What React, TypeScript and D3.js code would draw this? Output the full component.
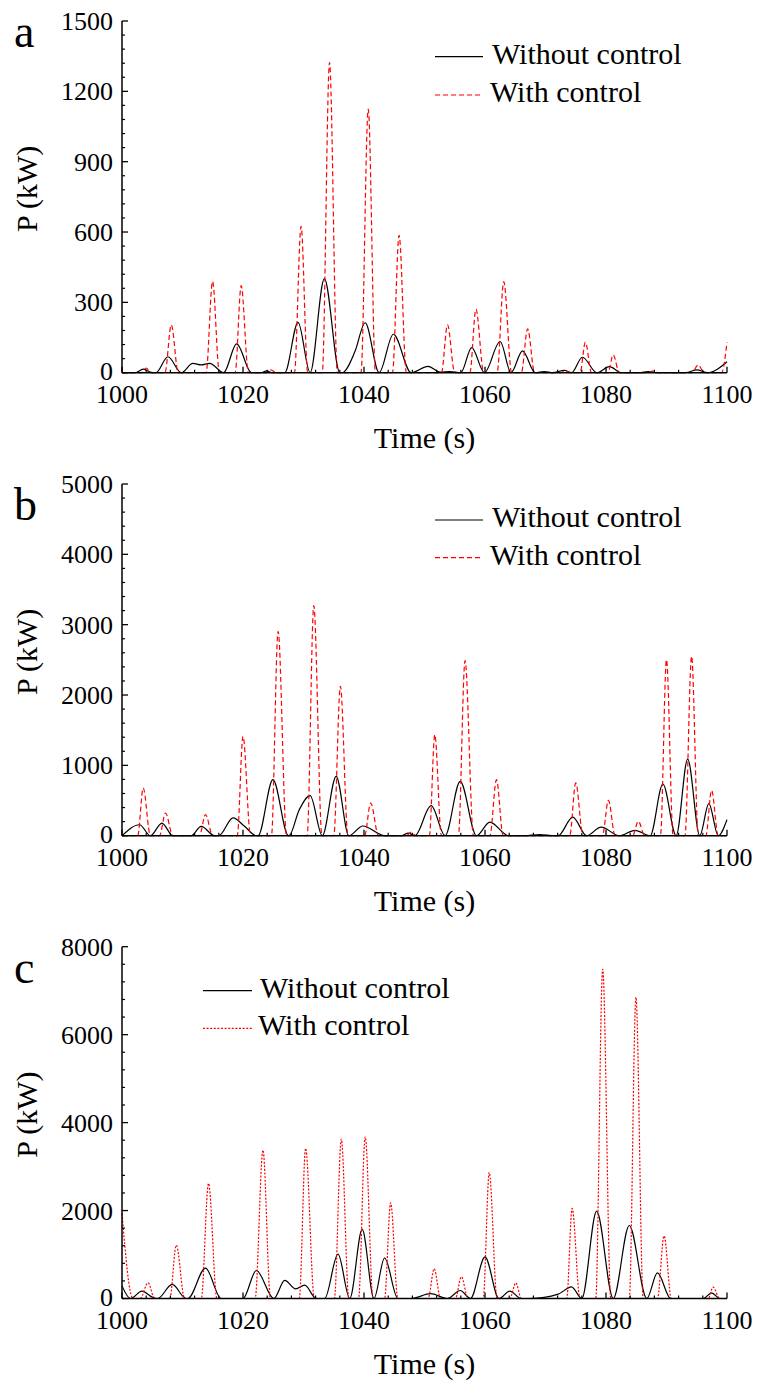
import React from 'react';
import * as d3 from 'd3';

type Pt = [number, number];

const timeDomain: [number, number] = [1000, 1100];
const xMajorTicks = [1000, 1020, 1040, 1060, 1080, 1100];
const xMinorStep = 4;

const seriesNames = ['Without control', 'With control'];
const panelLabels = ['a', 'b', 'c'];
const yMaxes = [1500, 5000, 8000];
const yMajorSteps = [300, 1000, 2000];
const yMinorSteps = [60, 200, 400];

const aWithout: Pt[] = [
  [1000, 0], [1002.2, 0], [1003.5, 15], [1005.1, 0], [1005.6, 0], [1007.6, 68], [1009.8, 0],
  [1011.7, 40], [1013.1, 33], [1014.5, 40], [1016.8, 0], [1018.95, 123], [1021.4, 0], [1023.0, 0],
  [1023.9, 8], [1024.8, 0], [1026.9, 0], [1029.1, 215], [1031.1, 0], [1033.45, 401], [1036.0, 0],
  [1036.4, 0], [1038.5, 90], [1040.2, 213], [1042.5, 0], [1044.85, 164], [1047.8, 0], [1050.6, 27],
  [1052.6, 3], [1054.2, 5], [1056.0, 0], [1057.8, 107], [1059.9, 0], [1062.5, 133], [1064.3, 0],
  [1066.2, 93], [1068.3, 0], [1069.8, 5], [1071.2, 0], [1073.1, 10], [1074.3, 0], [1076.1, 66],
  [1078.5, 0], [1080.55, 26], [1082.6, 0], [1085.5, 0], [1087, 5], [1088.5, 0], [1093.2, 0],
  [1095.0, 12], [1096.8, 0], [1100, 47],
];

const aWith: Pt[] = [
  [1000, 0], [1003.2, 0], [1004.0, 20], [1004.8, 0], [1007.1, 0], [1008.15, 204], [1009.3, 0],
  [1013.9, 0], [1014.97, 389], [1016.1, 0], [1018.7, 0], [1019.7, 371], [1020.9, 0], [1023.8, 0],
  [1024.6, 12], [1025.5, 0], [1028.5, 0], [1029.6, 624], [1030.7, 0], [1033.1, 0], [1034.3, 1323],
  [1035.6, 0], [1039.5, 0], [1040.7, 1124], [1041.9, 0], [1044.7, 0], [1045.8, 586], [1047.0, 0],
  [1052.8, 0], [1053.8, 204], [1055.0, 0], [1057.5, 0], [1058.5, 271], [1059.8, 0], [1062.0, 0],
  [1063.1, 389], [1064.4, 0], [1066.0, 0], [1067.05, 187], [1068.2, 0], [1072.5, 0], [1073.3, 8],
  [1074.1, 0], [1075.7, 0], [1076.6, 130], [1077.6, 0], [1080.3, 0], [1081.2, 76], [1082.2, 0],
  [1087.0, 0], [1087.8, 8], [1088.6, 0], [1094.2, 0], [1095.25, 33], [1096.2, 0], [1099.1, 0],
  [1100, 130],
];

const bWithout: Pt[] = [
  [1000, 0], [1002.9, 156], [1004.7, 0], [1006.6, 180], [1008.4, 0], [1011.4, 0], [1013.1, 133],
  [1015.3, 0], [1016.0, 0], [1018.35, 252], [1020.25, 133], [1022.2, 0], [1022.5, 0], [1024.95, 796],
  [1027.5, 0], [1027.6, 0], [1029.3, 370], [1031.1, 569], [1033.1, 0], [1035.4, 844], [1037.5, 0],
  [1039.8, 138], [1043.4, 0], [1046.2, 0], [1047.3, 38], [1048.4, 0], [1051.1, 427], [1053.4, 0],
  [1055.9, 773], [1058.6, 0], [1060.8, 194], [1063.9, 0], [1066.5, 0], [1069, 15], [1071.5, 0],
  [1072.1, 0], [1074.5, 265], [1076.8, 0], [1079.2, 123], [1082.2, 0], [1084.8, 76], [1087.3, 0],
  [1089.4, 735], [1091.6, 0], [1093.5, 1090], [1095.5, 0], [1097.0, 455], [1098.55, 0], [1100, 228],
];

const bWith: Pt[] = [
  [1000, 0], [1002.6, 0], [1003.5, 678], [1004.7, 0], [1006.2, 0], [1007.2, 323], [1008.4, 0],
  [1012.8, 0], [1013.8, 299], [1015.0, 0], [1019.05, 0], [1020.0, 1413], [1021.25, 0], [1024.7, 0],
  [1025.8, 2906], [1027.2, 0], [1030.6, 0], [1031.7, 3270], [1033.05, 0], [1035.0, 0], [1036.1, 2124],
  [1037.35, 0], [1040.1, 0], [1041.1, 465], [1042.4, 0], [1047.0, 0], [1047.8, 50], [1048.6, 0],
  [1050.8, 0], [1051.7, 1436], [1052.8, 0], [1055.6, 0], [1056.7, 2488], [1058.1, 0], [1060.8, 0],
  [1061.9, 796], [1063.0, 0], [1074.0, 0], [1075.0, 750], [1076.2, 0], [1079.4, 0], [1080.4, 503],
  [1081.5, 0], [1084.4, 0], [1085.35, 204], [1086.4, 0], [1089.0, 0], [1090.0, 2503], [1091.1, 0],
  [1093.05, 0], [1094.15, 2550], [1095.25, 0], [1096.5, 0], [1097.45, 645], [1098.55, 0], [1100, 0],
];

const cWithout: Pt[] = [
  [1000, 287], [1001.4, 0], [1003.3, 166], [1005.0, 30], [1005.9, 0], [1008.3, 319], [1010.6, 0],
  [1010.9, 0], [1013.8, 690], [1016.4, 0], [1020.0, 0], [1022.2, 637], [1025.1, 0], [1026.9, 410],
  [1028.7, 218], [1030.2, 303], [1032.1, 0], [1033.5, 0], [1035.7, 1008], [1037.65, 0], [1039.7, 1570],
  [1041.65, 0], [1043.4, 924], [1045.6, 0], [1047.8, 0], [1051.0, 110], [1053.8, 0], [1055.9, 182],
  [1057.6, 0], [1060.0, 947], [1062.3, 0], [1064.1, 167], [1066.0, 0], [1067.5, 0], [1072.1, 100],
  [1074.3, 265], [1076.0, 0], [1078.45, 1987], [1081.2, 0], [1083.85, 1660], [1086.75, 0],
  [1088.5, 583], [1090.7, 0], [1096.1, 0], [1097.45, 130], [1098.8, 0], [1100, 0],
];

const cWith: Pt[] = [
  [1000, 1934], [1001.8, 0], [1003.0, 0], [1004.3, 357], [1005.4, 0], [1007.9, 0], [1008.97, 1213],
  [1010.35, 0], [1013.1, 0], [1014.3, 2616], [1015.7, 0], [1022.0, 0], [1023.3, 3374], [1024.55, 0],
  [1029.3, 0], [1030.35, 3413], [1031.8, 0], [1035.1, 0], [1036.25, 3625], [1037.5, 0], [1039.1, 0],
  [1040.2, 3677], [1041.5, 0], [1043.4, 0], [1044.4, 2175], [1045.6, 0], [1050.6, 0], [1051.6, 675],
  [1052.65, 0], [1055.1, 0], [1056.1, 493], [1057.2, 0], [1059.7, 0], [1060.7, 2866], [1062.0, 0],
  [1064.1, 0], [1065.1, 357], [1066.0, 0], [1073.5, 0], [1074.4, 2048], [1075.7, 0], [1078.3, 0],
  [1079.45, 7486], [1080.8, 0], [1083.85, 0], [1084.95, 6849], [1086.15, 0], [1088.5, 0],
  [1089.6, 1425], [1090.8, 0], [1096.9, 0], [1097.7, 258], [1098.8, 0], [1100, 0],
];

const withoutData = [aWithout, bWithout, cWithout];
const withData = [aWith, bWith, cWith];

// layout (not data)
const X0 = 122;
const X1 = 727;
const layouts = [
  { top: 21, bottom: 372.7, lx1: 435, lx2: 483, tx: 492, ly1: 56.7, ly2: 95, dash: '5,3', labelY: 47 },
  { top: 484, bottom: 835.7, lx1: 435, lx2: 483, tx: 492, ly1: 520, ly2: 557.7, dash: '5,3', labelY: 520 },
  { top: 946.7, bottom: 1298.5, lx1: 203, lx2: 252, tx: 260, ly1: 990.7, ly2: 1028.3, dash: '2,1.6', labelY: 983 },
];

const FONT = "'Liberation Serif', Tinos, 'Times New Roman', 'DejaVu Serif', serif";

function T(props: any) {
  const { children, style, ...rest } = props;
  return (
    <text {...rest} style={{ fontFamily: FONT, ...(style || {}) }}>
      {children}
    </text>
  );
}

function Panel({ i }: { i: number }) {
  const L = layouts[i];
  const yMax = yMaxes[i];
  const x = d3.scaleLinear().domain(timeDomain).range([X0, X1]);
  const y = d3.scaleLinear().domain([0, yMax]).range([L.bottom, L.top]);
  const line = d3
    .line<Pt>()
    .x((d) => x(d[0]))
    .y((d) => y(d[1]))
    .curve(d3.curveMonotoneX);
  const yMaj = d3.range(0, yMax + 1e-6, yMajorSteps[i]);
  const yMin = d3
    .range(0, yMax + 1e-6, yMinorSteps[i])
    .filter((v) => Math.abs(v / yMajorSteps[i] - Math.round(v / yMajorSteps[i])) > 1e-6);
  const xMin = d3
    .range(timeDomain[0], timeDomain[1] + 1e-6, xMinorStep)
    .filter((v) => !xMajorTicks.includes(v));
  const midY = (L.top + L.bottom) / 2;

  return (
    <g>
      <T x={14} y={L.labelY} fontSize={46}>
        {panelLabels[i]}
      </T>
      <path d={line(withoutData[i]) || ''} fill="none" stroke="#000" strokeWidth={1.2} />
      <path
        d={line(withData[i]) || ''}
        fill="none"
        stroke="#ff0000"
        strokeWidth={1.2}
        strokeDasharray={L.dash}
      />
      <line x1={X0} x2={X0} y1={L.top} y2={L.bottom} stroke="#000" strokeWidth={1.5} />
      <line x1={X0} x2={X1} y1={L.bottom} y2={L.bottom} stroke="#000" strokeWidth={1.5} />
      {yMaj.map((v) => (
        <g key={'ym' + v}>
          <line x1={X0} x2={X0 + 6} y1={y(v)} y2={y(v)} stroke="#000" strokeWidth={1.3} />
          <T x={113} y={y(v) + (v === 0 ? 7.5 : 9)} textAnchor="end" fontSize={26}>
            {v}
          </T>
        </g>
      ))}
      {yMin.map((v) => (
        <line key={'yn' + v} x1={X0} x2={X0 + 3} y1={y(v)} y2={y(v)} stroke="#000" strokeWidth={1.2} />
      ))}
      {xMajorTicks.map((v) => (
        <g key={'xm' + v}>
          <line x1={x(v)} x2={x(v)} y1={L.bottom} y2={L.bottom - 6} stroke="#000" strokeWidth={1.3} />
          <T x={x(v)} y={L.bottom + 30} textAnchor="middle" fontSize={26}>
            {v}
          </T>
        </g>
      ))}
      {xMin.map((v) => (
        <line key={'xn' + v} x1={x(v)} x2={x(v)} y1={L.bottom} y2={L.bottom - 3} stroke="#000" strokeWidth={1.2} />
      ))}
      <T x={(X0 + X1) / 2} y={L.bottom + 75} textAnchor="middle" fontSize={30}>
        Time (s)
      </T>
      <T transform={`translate(37, ${midY - 8}) rotate(-90)`} textAnchor="middle" fontSize={30}>
        P (kW)
      </T>
      <line x1={L.lx1} x2={L.lx2} y1={L.ly1} y2={L.ly1} stroke="#000" strokeWidth={1.2} />
      <T x={L.tx} y={L.ly1 + 7} fontSize={30}>
        {seriesNames[0]}
      </T>
      <line
        x1={L.lx1}
        x2={L.lx2}
        y1={L.ly2}
        y2={L.ly2}
        stroke="#ff0000"
        strokeWidth={1.2}
        strokeDasharray={L.dash}
      />
      <T x={L.tx - 2} y={L.ly2 + 7} fontSize={30}>
        {seriesNames[1]}
      </T>
    </g>
  );
}

export default function App() {
  return (
    <svg
      width={759}
      height={1380}
      viewBox="0 0 759 1380"
      style={{ position: 'absolute', left: 0, top: 0, background: '#fff' }}
    >
      <rect x={0} y={0} width={759} height={1380} fill="#fff" />
      {[0, 1, 2].map((i) => (
        <Panel key={i} i={i} />
      ))}
    </svg>
  );
}
